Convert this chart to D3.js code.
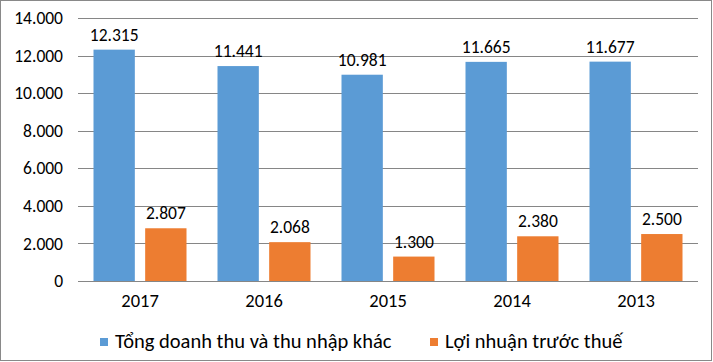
<!DOCTYPE html>
<html><head><meta charset="utf-8">
<script src="https://cdn.jsdelivr.net/npm/d3@7"></script>
<style>body{margin:0;background:#fff}svg{display:block}</style>
</head><body>
<script>
const categories = ["2017","2016","2015","2014","2013"];
const seriesNames = ["Tổng doanh thu và thu nhập khác","Lợi nhuận trước thuế"];
const revenue = [12315,11441,10981,11665,11677];
const profit = [2807,2068,1300,2380,2500];
const yTicks = [0,2000,4000,6000,8000,10000,12000,14000];
const colors = ["#5b9bd5","#ed7d31"];

const W=713,H=362;
const fontFam = "Carlito, Calibri, 'Liberation Sans', Arial, sans-serif";
const svg = d3.select("body").append("svg").attr("width",W).attr("height",H);
svg.append("rect").attr("x",0.5).attr("y",0.5).attr("width",W-2).attr("height",H-2)
  .attr("fill","#fff").attr("stroke","#898989");

const x0 = d3.scaleBand().domain(categories).range([78,698]).paddingInner(0).paddingOuter(0);
const x1 = d3.scaleBand().domain([0,1]).range([15.5, x0.bandwidth()-15.5]).paddingInner(0.2);
const y = d3.scaleLinear().domain([0,14000]).range([281,18]);
const fmt = v => d3.format(",")(v).replace(/,/g,".");

svg.append("g").selectAll("line").data(yTicks).join("line")
  .attr("x1",78).attr("x2",698).attr("y1",d=>Math.round(y(d))+0.5).attr("y2",d=>Math.round(y(d))+0.5)
  .attr("stroke","#868686").attr("stroke-width",1);

const yAxis = d3.axisLeft(y).tickValues(yTicks).tickSize(0).tickPadding(0).tickFormat(fmt);
const ga = svg.append("g").attr("transform","translate(63,0)").call(yAxis);
ga.select(".domain").remove();
ga.selectAll("text").attr("font-family",fontFam).attr("font-size",17.5).attr("fill","#000");

const xAxis = d3.axisBottom(x0).tickSize(0).tickPadding(0);
const gx = svg.append("g").attr("transform","translate(0,294)").call(xAxis);
gx.select(".domain").remove();
gx.selectAll("text").attr("font-family",fontFam).attr("font-size",18.5).attr("fill","#000");

const series = [revenue, profit];
series.forEach((vals,si)=>{
  const g = svg.append("g");
  g.selectAll("rect").data(vals).join("rect")
    .attr("x",(d,i)=>x0(categories[i])+x1(si))
    .attr("width",x1.bandwidth())
    .attr("y",d=>y(d)).attr("height",d=>y(0)-y(d))
    .attr("fill",colors[si]);
  g.selectAll("text").data(vals).join("text")
    .attr("x",(d,i)=>x0(categories[i])+x1(si)+x1.bandwidth()/2)
    .attr("y",d=>y(d)-9)
    .attr("text-anchor","middle")
    .attr("font-family",fontFam).attr("font-size",17.5).attr("fill","#000")
    .text(fmt);
});

const leg = svg.append("g").attr("font-family",fontFam).attr("font-size",20.5);
const legX = [100, 430];
seriesNames.forEach((n,i)=>{
  leg.append("rect").attr("x",legX[i]).attr("y",338).attr("width",8).attr("height",8).attr("fill",colors[i]);
  leg.append("text").attr("x",legX[i]+15).attr("y",348).attr("fill","#000").text(n);
});
</script>
</body></html>
